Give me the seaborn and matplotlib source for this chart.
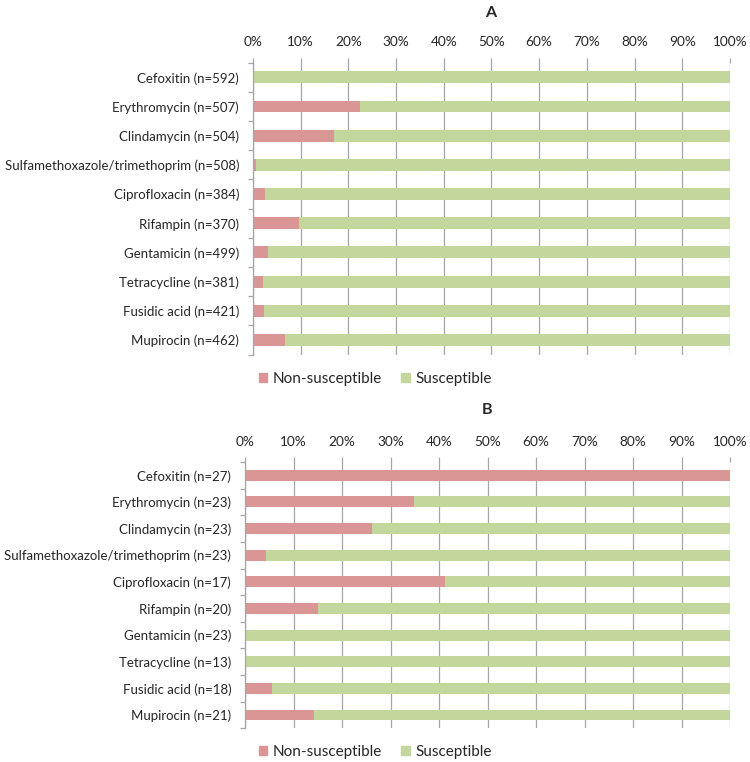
import matplotlib.pyplot as plt
import seaborn as sns
import pandas as pd
from matplotlib.ticker import FixedLocator, PercentFormatter
from matplotlib.patches import Patch

sns.set_style('white')
plt.rcParams['font.family'] = ['Lato', 'DejaVu Sans']

drugs = ['Cefoxitin', 'Erythromycin', 'Clindamycin',
         'Sulfamethoxazole/trimethoprim', 'Ciprofloxacin', 'Rifampin',
         'Gentamicin', 'Tetracycline', 'Fusidic acid', 'Mupirocin']
n_a = [592, 507, 504, 508, 384, 370, 499, 381, 421, 462]
n_b = [27, 23, 23, 23, 17, 20, 23, 13, 18, 21]

# percent non-susceptible / susceptible
nonsus_a = [0, 22.5, 16.9, 0.6, 2.5, 9.7, 3.2, 2.0, 2.3, 6.7]
sus_a = [100, 77.5, 83.1, 99.4, 97.5, 90.3, 96.8, 98.0, 97.7, 93.3]
nonsus_b = [100, 34.8, 26.1, 4.3, 41.2, 15.0, 0, 0, 5.6, 14.3]
sus_b = [0, 65.2, 73.9, 95.7, 58.8, 85.0, 100, 100, 94.4, 85.7]

RED = '#d99694'
GREEN = '#c3d69b'
GRID = '#a6a6a6'
FS = 9.5


def draw_panel(ax, ns, s, counts):
    labels = ['%s (n=%d)' % (d, n) for d, n in zip(drugs, counts)]
    df = pd.DataFrame({'drug': labels, 'ns': ns, 's': s})
    df['total'] = df['ns'] + df['s']
    sns.barplot(data=df, x='total', y='drug', orient='h', color=GREEN,
                width=0.41, ax=ax, saturation=1, linewidth=0)
    sns.barplot(data=df, x='ns', y='drug', orient='h', color=RED,
                width=0.41, ax=ax, saturation=1, linewidth=0)
    ax.set_xlabel('')
    ax.set_ylabel('')
    ax.set_xlim(0, 100)
    ax.set_ylim(len(labels) - 0.5, -0.5)
    ax.xaxis.set_major_locator(FixedLocator(range(0, 101, 10)))
    ax.xaxis.set_major_formatter(PercentFormatter(decimals=0))
    ax.xaxis.tick_top()
    ax.xaxis.grid(True, color=GRID, lw=0.9)
    ax.set_axisbelow(True)
    ax.tick_params(axis='x', length=3.3, color=GRID, width=0.9, pad=7,
                   labelsize=FS + 0.3)
    ax.yaxis.set_minor_locator(FixedLocator([i - 0.5 for i in range(len(labels) + 1)]))
    ax.tick_params(axis='y', which='major', length=0, pad=10, labelsize=FS)
    ax.tick_params(axis='y', which='minor', length=3.6, color=GRID, width=0.9,
                   left=True)
    for side in ['top', 'right', 'bottom']:
        ax.spines[side].set_visible(False)
    ax.spines['left'].set_color(GRID)
    ax.spines['left'].set_linewidth(0.9)


fig = plt.figure(figsize=(7.5, 7.62), dpi=100)
ax_a = fig.add_axes([0.3373, 0.5346, 0.636, 0.3831])
ax_b = fig.add_axes([0.3267, 0.0442, 0.6467, 0.3495])

draw_panel(ax_a, nonsus_a, sus_a, n_a)
draw_panel(ax_b, nonsus_b, sus_b, n_b)

fig.text(491 / 750, 1 - 13 / 762, 'A', ha='center', va='center',
         fontsize=11.5, fontweight='bold')
fig.text(487 / 750, 1 - 410 / 762, 'B', ha='center', va='center',
         fontsize=11.5, fontweight='bold')

handles = [Patch(color=RED, label='Non-susceptible'),
           Patch(color=GREEN, label='Susceptible')]
for y in [1 - 379 / 762, 1 - 752 / 762]:
    fig.legend(handles=handles, loc='center', bbox_to_anchor=(0.5, y),
               ncol=2, frameon=False, fontsize=11, handlelength=0.55,
               handleheight=0.55, handletextpad=0.35, columnspacing=1.3)

fig.savefig('out.png', dpi=100)
